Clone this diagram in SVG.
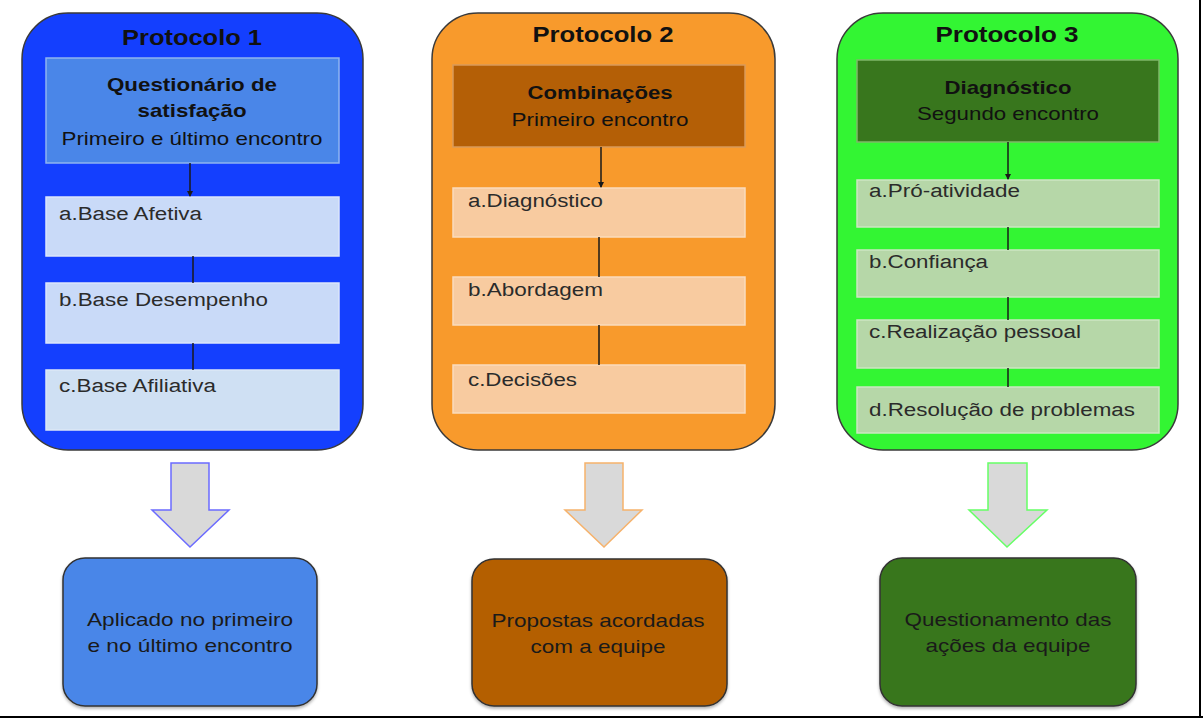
<svg xmlns="http://www.w3.org/2000/svg" width="1203" height="719" viewBox="0 0 1203 719">
<style>
text{font-family:"Liberation Sans",Arial,sans-serif;fill:#111}
.title{font-size:22px;font-weight:bold;text-anchor:middle}
.hb{font-size:19px;font-weight:bold;text-anchor:middle}
.hr{font-size:19px;text-anchor:middle}
.it{font-size:18px;fill:#2b2b2b}
.bt{font-size:19px;text-anchor:middle;fill:#1a1a1a}
.outer{stroke:#3a3a3a;stroke-width:1.5}
.head{stroke-width:1.5}
.item{stroke-width:1.5}
.conn{stroke:#1a1a1a;stroke-width:1.5;fill:none}
.big{fill:#d9d9d9;stroke-width:1.5}
.res{stroke:#333;stroke-width:1.5}
</style>
<defs>
<marker id="ah" markerWidth="6" markerHeight="6" refX="5" refY="3" orient="auto" markerUnits="userSpaceOnUse">
<path d="M0,0 L6,3 L0,6 Z" fill="#1a1a1a"/>
</marker>
<filter id="sh" x="-10%" y="-10%" width="120%" height="120%">
<feDropShadow dx="0" dy="2" stdDeviation="1.5" flood-color="#000" flood-opacity="0.3"/>
</filter>
</defs>
<rect width="1203" height="719" fill="#fff"/>

<g id="protocolo1">
<rect class="outer" x="22" y="13" width="341" height="437" rx="46" fill="#143ffe"/>
<text class="title" x="192" y="45" textLength="140" lengthAdjust="spacingAndGlyphs">Protocolo 1</text>
<rect class="head" x="46" y="58" width="293" height="105" fill="#4a86e8" stroke="#8fb4f0"/>
<text class="hb" x="192" y="91" textLength="170" lengthAdjust="spacingAndGlyphs">Questionário de</text>
<text class="hb" x="192" y="117" textLength="109" lengthAdjust="spacingAndGlyphs">satisfação</text>
<text class="hr" x="192" y="145" textLength="261" lengthAdjust="spacingAndGlyphs">Primeiro e último encontro</text>
<g id="p1a"><rect class="item" x="46" y="197" width="293" height="59" fill="#c9daf8" stroke="#dbe6fb"/>
<text class="it" x="59" y="220" textLength="143" lengthAdjust="spacingAndGlyphs">a.Base Afetiva</text></g>
<g id="p1b"><rect class="item" x="46" y="283" width="293" height="60" fill="#c9daf8" stroke="#dbe6fb"/>
<text class="it" x="59" y="306" textLength="209" lengthAdjust="spacingAndGlyphs">b.Base Desempenho</text></g>
<g id="p1c"><rect class="item" x="46" y="370" width="293" height="60" fill="#cfe0f3" stroke="#dde8f6"/>
<text class="it" x="59" y="392" textLength="157" lengthAdjust="spacingAndGlyphs">c.Base Afiliativa</text></g>
</g>

<g id="protocolo2">
<rect class="outer" x="432" y="13" width="343" height="437" rx="46" fill="#f89a2c"/>
<text class="title" x="603" y="42" textLength="141" lengthAdjust="spacingAndGlyphs">Protocolo 2</text>
<rect class="head" x="453" y="65" width="292" height="82" fill="#b45f06" stroke="#d99a5a"/>
<text class="hb" x="600" y="99" textLength="145" lengthAdjust="spacingAndGlyphs">Combinações</text>
<text class="hr" x="600" y="126" textLength="177" lengthAdjust="spacingAndGlyphs">Primeiro encontro</text>
<g id="p2a"><rect class="item" x="453" y="188" width="292" height="49" fill="#f8cba0" stroke="#fadcbd"/>
<text class="it" x="468" y="207" textLength="135" lengthAdjust="spacingAndGlyphs">a.Diagnóstico</text></g>
<g id="p2b"><rect class="item" x="453" y="277" width="292" height="48" fill="#f8cba0" stroke="#fadcbd"/>
<text class="it" x="468" y="296" textLength="135" lengthAdjust="spacingAndGlyphs">b.Abordagem</text></g>
<g id="p2c"><rect class="item" x="453" y="365" width="292" height="48" fill="#f8cba0" stroke="#fadcbd"/>
<text class="it" x="468" y="386" textLength="109" lengthAdjust="spacingAndGlyphs">c.Decisões</text></g>
</g>

<g id="protocolo3">
<rect class="outer" x="837" y="13" width="341" height="437" rx="46" fill="#33f533"/>
<text class="title" x="1007" y="42" textLength="143" lengthAdjust="spacingAndGlyphs">Protocolo 3</text>
<rect class="head" x="857" y="60" width="302" height="82" fill="#38761d" stroke="#7fb86a"/>
<text class="hb" x="1008" y="94" textLength="127" lengthAdjust="spacingAndGlyphs">Diagnóstico</text>
<text class="hr" x="1008" y="120" textLength="182" lengthAdjust="spacingAndGlyphs">Segundo encontro</text>
<g id="p3a"><rect class="item" x="857" y="180" width="302" height="47" fill="#b6d7a8" stroke="#cde6c2"/>
<text class="it" x="869" y="197" textLength="151" lengthAdjust="spacingAndGlyphs">a.Pró-atividade</text></g>
<g id="p3b"><rect class="item" x="857" y="250" width="302" height="47" fill="#b6d7a8" stroke="#cde6c2"/>
<text class="it" x="869" y="268" textLength="119" lengthAdjust="spacingAndGlyphs">b.Confiança</text></g>
<g id="p3c"><rect class="item" x="857" y="320" width="302" height="48" fill="#b6d7a8" stroke="#cde6c2"/>
<text class="it" x="869" y="338" textLength="212" lengthAdjust="spacingAndGlyphs">c.Realização pessoal</text></g>
<g id="p3d"><rect class="item" x="857" y="387" width="302" height="46" fill="#b6d7a8" stroke="#cde6c2"/>
<text class="it" x="869" y="416" textLength="266" lengthAdjust="spacingAndGlyphs">d.Resolução de problemas</text></g>
</g>

<g id="connectors">
<line class="conn" x1="190" y1="163" x2="190" y2="196" marker-end="url(#ah)"/>
<line class="conn" x1="193" y1="256" x2="193" y2="283"/>
<line class="conn" x1="193" y1="343" x2="193" y2="370"/>
<line class="conn" x1="601" y1="147" x2="601" y2="187" marker-end="url(#ah)"/>
<line class="conn" x1="599" y1="237" x2="599" y2="277"/>
<line class="conn" x1="599" y1="325" x2="599" y2="365"/>
<line class="conn" x1="1008" y1="142" x2="1008" y2="179" marker-end="url(#ah)"/>
<line class="conn" x1="1008" y1="227" x2="1008" y2="250"/>
<line class="conn" x1="1008" y1="297" x2="1008" y2="320"/>
<line class="conn" x1="1008" y1="368" x2="1008" y2="387"/>
<path class="big" stroke="#6b6bff" d="M171,463 H209 V510 H229 L190,547 L152,510 H171 Z"/>
<path class="big" stroke="#f6b26b" d="M585,463 H623 V510 H642 L604,547 L565,510 H585 Z"/>
<path class="big" stroke="#66ff66" d="M988,463 H1027 V510 H1047 L1007,547 L969,510 H988 Z"/>
</g>

<g id="resultado1">
<rect class="res" x="63" y="558" width="254" height="148" rx="22" fill="#4a86e8" filter="url(#sh)"/>
<text class="bt" x="190" y="626" textLength="206" lengthAdjust="spacingAndGlyphs">Aplicado no primeiro</text>
<text class="bt" x="190" y="652" textLength="205" lengthAdjust="spacingAndGlyphs">e no último encontro</text>
</g>
<g id="resultado2">
<rect class="res" x="472" y="559" width="255" height="147" rx="22" fill="#b45f06" filter="url(#sh)"/>
<text class="bt" x="598" y="627" textLength="213" lengthAdjust="spacingAndGlyphs">Propostas acordadas</text>
<text class="bt" x="598" y="653" textLength="135" lengthAdjust="spacingAndGlyphs">com a equipe</text>
</g>
<g id="resultado3">
<rect class="res" x="880" y="558" width="256" height="148" rx="22" fill="#38761d" filter="url(#sh)"/>
<text class="bt" x="1008" y="626" textLength="207" lengthAdjust="spacingAndGlyphs">Questionamento das</text>
<text class="bt" x="1008" y="652" textLength="165" lengthAdjust="spacingAndGlyphs">ações da equipe</text>
</g>

<g id="frame">
<line x1="1200" y1="0" x2="1200" y2="718" stroke="#000" stroke-width="2"/>
<line x1="0" y1="717" x2="1203" y2="717" stroke="#000" stroke-width="2"/>
</g>
</svg>
